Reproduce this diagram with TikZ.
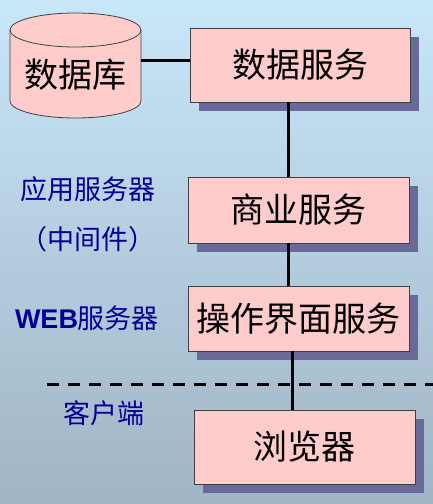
\documentclass[tikz,border=0pt]{standalone}
\usepackage{fontspec}
\setmainfont{Noto Sans CJK SC}
\newfontfamily\latinbold{Liberation Sans}
\usetikzlibrary{shadows,calc}
\definecolor{bgtop}{RGB}{200,231,249}
\definecolor{bgbottom}{RGB}{160,180,196}
\definecolor{boxfill}{RGB}{255,204,204}
\definecolor{shadowc}{RGB}{106,106,154}
\definecolor{labelblue}{RGB}{0,0,150}
\tikzset{
  servicebox/.style={draw=black!75, line width=0.8pt, fill=boxfill,
    drop shadow={shadow xshift=9pt, shadow yshift=-9pt, fill=shadowc, opacity=1},
    font=\fontsize{34}{34}\selectfont, inner sep=0pt},
  link/.style={line width=3pt, black},
  tierlabel/.style={text=labelblue, font=\fontsize{27}{27}\selectfont, inner sep=0pt}
}
\begin{document}
\begin{tikzpicture}[x=1pt,y=1pt]
  % background
  \shade[top color=bgtop, bottom color=bgbottom] (0,0) rectangle (433,504);
  \useasboundingbox (0,0) rectangle (433,504);

  % database cylinder
  \fill[boxfill] (10,474) -- (10,403) arc[start angle=180,end angle=360,x radius=65.5,y radius=17]
    -- (141,474) arc[start angle=0,end angle=180,x radius=65.5,y radius=17] -- cycle;
  \draw[black!75, line width=0.8pt] (10,474) -- (10,403)
    arc[start angle=180,end angle=360,x radius=65.5,y radius=17] -- (141,474);
  \draw[black!75, line width=0.8pt] (75.5,474) ellipse[x radius=65.5, y radius=17];
  \node[minimum width=131pt, inner sep=0pt, font=\fontsize{34}{34}\selectfont] (db) at (75.5,429) {数据库};

  % service tiers
  \node[servicebox, minimum width=220pt, minimum height=74pt] (ds) at (300,439) {数据服务};
  \node[servicebox, minimum width=221pt, minimum height=66pt] (biz) at (298.5,294) {商业服务};
  \node[servicebox, minimum width=221pt, minimum height=65pt] (ui) at (298.5,185.5) {操作界面服务};
  \node[servicebox, minimum width=221pt, minimum height=74pt] (br) at (304.5,57) {浏览器};

  % connectors
  \draw[link] ([yshift=4pt]db.east |- ds.west) -- ([yshift=4pt]ds.west);
  \draw[link] (ds.south -| 288,0) -- (biz.north -| 288,0);
  \draw[link] (biz.south -| 288,0) -- (ui.north -| 288,0);
  \draw[link] (ui.south -| 292,0) -- (br.north -| 292,0);

  % client boundary
  \coordinate (cutl) at (47,119);
  \coordinate (cutr) at (433,119);
  \draw[line width=3pt, dash pattern=on 12pt off 9pt] (cutl) -- (cutr);

  % tier labels
  \node[tierlabel] (app) at (88,315) {应用服务器};
  \node[tierlabel] (mid) at (88,265) {（中间件）};
  \node[tierlabel] (web) at (87,186) {{\latinbold\bfseries WEB}服务器};
  \node[tierlabel] (cli) at (104,91) {客户端};
\end{tikzpicture}
\end{document}
